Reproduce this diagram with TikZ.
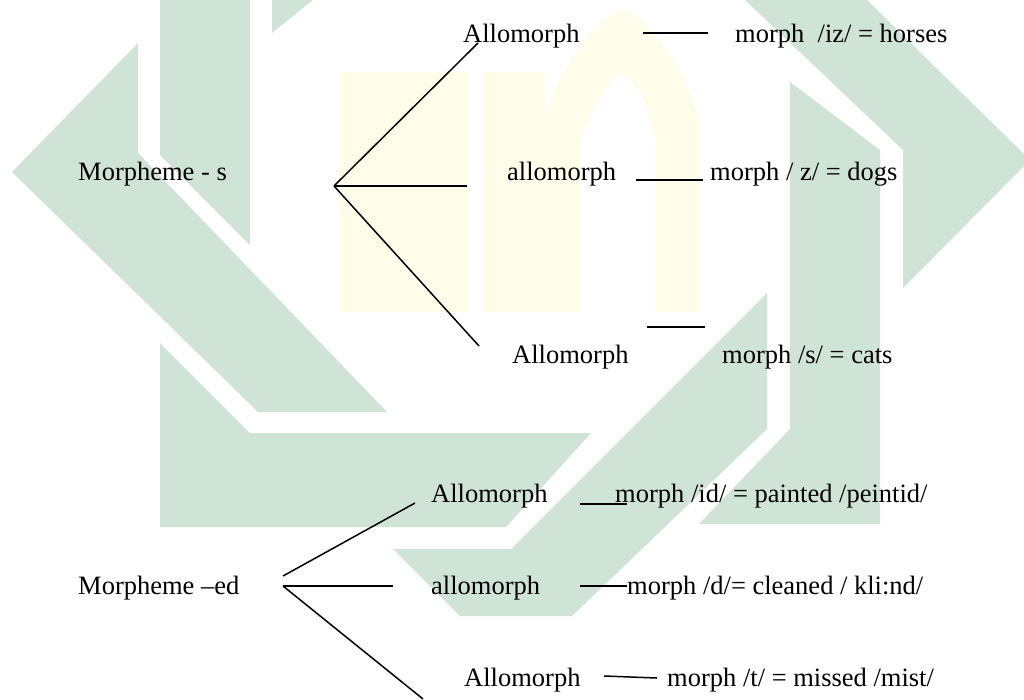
\documentclass[tikz,border=0pt]{standalone}
\usepackage{fontspec}
\setmainfont{Liberation Serif}
\definecolor{wmgreen}{RGB}{208,227,215}
\definecolor{wmyellow}{RGB}{255,252,234}
\tikzset{
  lbl/.style={anchor=base west, inner sep=0pt, font=\fontsize{26.5}{30}\selectfont},
  conn/.style={line width=1.5pt, black},
  wm/.style={fill=wmgreen, draw=none},
  wmy/.style={fill=wmyellow, draw=none}
}
\begin{document}
\begin{tikzpicture}[x=1pt,y=-1pt]
\fill[white] (0,0) rectangle (1024,699);
\useasboundingbox (0,0) rectangle (1024,699);
% watermark
\begin{scope}
\clip (0,0) rectangle (1024,699);
\fill[wmy] (340,72) rectangle (468,312);
\fill[wmy] (483,72) rectangle (545,312);
\fill[wmy] (545,312) -- (545,120) .. controls (560,60) and (600,20) .. (622,7)
  .. controls (644,20) and (684,60) .. (699,120) -- (699,312) -- (655,312) -- (655,140)
  .. controls (648,100) and (635,80) .. (622,73) .. controls (609,80) and (596,100) .. (579,140)
  -- (579,312) -- cycle;
\fill[wm] (138,43) -- (12,172) -- (258,412) -- (387,412) -- (138,153) -- cycle;
\fill[wm] (160,0) -- (250,0) -- (250,245) -- (160,155) -- cycle;
\fill[wm] (272,0) -- (313,0) -- (272,33) -- cycle;
\fill[wm] (160,343) -- (250,433) -- (591,433) -- (506,527) -- (160,527) -- cycle;
\fill[wm] (767,293) -- (767,429) -- (572,616) -- (460,616) -- (393,549) -- (511,549) -- cycle;
\fill[wm] (790,82) -- (880,150) -- (880,524) -- (699,524) -- (790,429) -- cycle;
\fill[wm] (745,0) -- (867,0) -- (1030,160) -- (903,288) -- (903,150) -- cycle;
\end{scope}

% texts
\node[lbl] (ms) at (78,180) {Morpheme - s};
\node[lbl] (a1) at (463,42) {Allomorph};
\node[lbl] (m1) at (735,42) {morph\ \ /iz/ = horses};
\node[lbl] (a2) at (507,180) {allomorph};
\node[lbl] (m2) at (710,180) {morph / z/ = dogs};
\node[lbl] (a3) at (512,363) {Allomorph};
\node[lbl] (m3) at (722,363) {morph /s/ = cats};
\node[lbl] (med) at (78,594) {Morpheme –ed};
\node[lbl] (a4) at (431,502) {Allomorph};
\node[lbl] (m4) at (615,502) {morph /id/ = painted /peintid/};
\node[lbl] (a5) at (431,594) {allomorph};
\node[lbl] (m5) at (627,594) {morph /d/= cleaned / kli:nd/};
\node[lbl] (a6) at (464,686) {Allomorph};
\node[lbl] (m6) at (667,686) {morph /t/ = missed /mist/};

% coordinates
\coordinate (sroot) at (334,186);
\coordinate (s1) at (478,43);
\coordinate (s2) at (467,186);
\coordinate (s3) at (479,346);
\coordinate (eroot) at (283,586);
\coordinate (eup) at (283,576);
\coordinate (e1) at (415,503);
\coordinate (e2) at (393,586);
\coordinate (e3) at (423,699);
\coordinate (d1a) at (643,33);  \coordinate (d1b) at (708,33);
\coordinate (d2a) at (636,180); \coordinate (d2b) at (703,180);
\coordinate (d3a) at (647,327); \coordinate (d3b) at (705,327);
\coordinate (d4a) at (580,504); \coordinate (d4b) at (627,504);
\coordinate (d5a) at (580,586); \coordinate (d5b) at (627,586);
\coordinate (d6a) at (604,676); \coordinate (d6b) at (657,678);

% connectors
\draw[conn] (sroot) -- (s1);
\draw[conn] (sroot) -- (s2);
\draw[conn] (sroot) -- (s3);
\draw[conn] (eup) -- (e1);
\draw[conn] (eroot) -- (e2);
\draw[conn] (eroot) -- (e3);
\draw[conn] (d1a) -- (d1b);
\draw[conn] (d2a) -- (d2b);
\draw[conn] (d3a) -- (d3b);
\draw[conn] (d4a) -- (d4b);
\draw[conn] (d5a) -- (d5b);
\draw[conn] (d6a) -- (d6b);
\end{tikzpicture}
\end{document}
